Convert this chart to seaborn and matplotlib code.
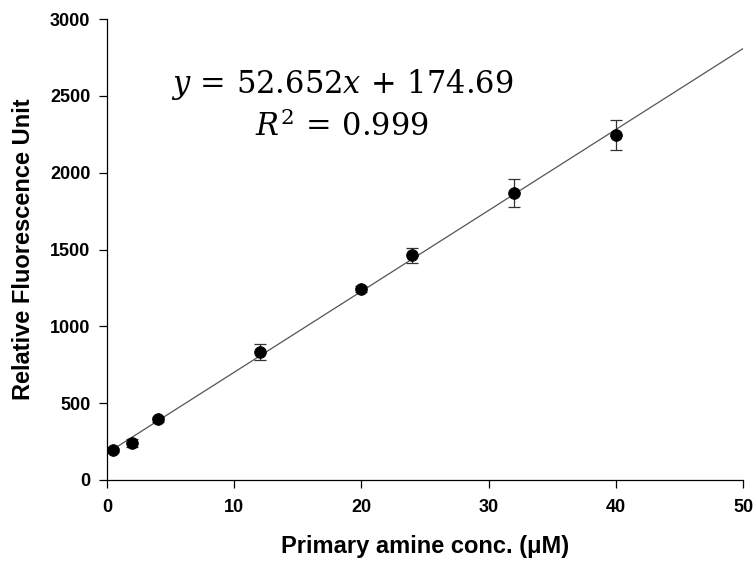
import numpy as np
import pandas as pd
import matplotlib
matplotlib.use('Agg')
import matplotlib.pyplot as plt
import seaborn as sns

# data
conc = [0.5, 2, 4, 12, 20, 24, 32, 40]
rfu = [195, 240, 395, 833, 1243, 1462, 1867, 2243]
err = [15, 25, 15, 55, 20, 50, 90, 98]

slope = 52.652
intercept = 174.69
fit_x = [0, 50]

df = pd.DataFrame({'conc': conc, 'rfu': rfu, 'err': err})
fit = pd.DataFrame({'x': fit_x})
fit['y'] = slope * fit['x'] + intercept

sns.set_style('ticks')
plt.rcParams['font.family'] = ['Liberation Sans', 'DejaVu Sans']
plt.rcParams['mathtext.fontset'] = 'dejavuserif'
plt.rcParams['text.color'] = 'black'
plt.rcParams['axes.labelcolor'] = 'black'

fig = plt.figure(figsize=(7.56, 5.64), dpi=100)
ax = fig.add_axes([107/756, 84/564, 636/756, 461/564])

sns.lineplot(data=fit, x='x', y='y', ax=ax, color='#555555', linewidth=0.9)
ax.errorbar(df['conc'], df['rfu'], yerr=df['err'], fmt='none',
            ecolor='#333333', elinewidth=0.9, capsize=4.5, capthick=0.9, zorder=3)
sns.scatterplot(data=df, x='conc', y='rfu', ax=ax, color='black', s=70,
                edgecolor='black', zorder=4)

ax.set_xlim(0, 50)
ax.set_ylim(0, 3000)
ax.set_xticks([0, 10, 20, 30, 40, 50])
ax.set_yticks([0, 500, 1000, 1500, 2000, 2500, 3000])
ax.tick_params(direction='out', length=6, width=0.9, labelsize=13,
               colors='black', pad=6)
ax.tick_params(axis='x', pad=8)
for lab in ax.get_xticklabels() + ax.get_yticklabels():
    lab.set_fontweight('bold')
for s in ['left', 'bottom']:
    ax.spines[s].set_linewidth(0.9)
    ax.spines[s].set_color('black')
sns.despine(ax=ax)

ax.set_xlabel('Primary amine conc. (\u03bcM)', fontsize=17, fontweight='bold', labelpad=13)
ax.set_ylabel('Relative Fluorescence Unit', fontsize=17, fontweight='bold', labelpad=11)

ax.text(0.37, 0.857, r'$y\,=\,\mathrm{52.652}x\,+\,\mathrm{174.69}$', transform=ax.transAxes,
        ha='center', va='center', fontsize=22)
ax.text(0.37, 0.765, r'$R^2\,=\,\mathrm{0.999}$', transform=ax.transAxes,
        ha='center', va='center', fontsize=22)

fig.savefig('out.png', dpi=100)
